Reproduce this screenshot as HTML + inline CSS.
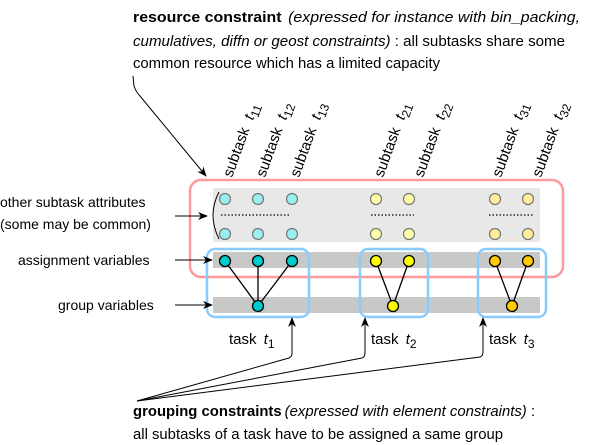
<!DOCTYPE html>
<html><head><meta charset="utf-8"><style>
html,body{margin:0;padding:0;background:#fff;}
svg{display:block;font-family:"Liberation Sans",sans-serif;}
</style></head><body>
<svg width="605" height="445" viewBox="0 0 605 445" xmlns="http://www.w3.org/2000/svg">
<defs><marker id="a" markerWidth="10" markerHeight="8" refX="9" refY="4" orient="auto" markerUnits="userSpaceOnUse"><path d="M0,0 L10,4 L0,8 L3,4 z" fill="#000"/></marker></defs>
<!-- top text -->
<text x="133" y="22" font-size="14.6" textLength="447" lengthAdjust="spacingAndGlyphs"><tspan font-weight="bold">resource constraint</tspan><tspan font-style="italic" dx="6">(expressed for instance with bin_packing,</tspan></text>
<text x="133" y="46" font-size="14.6" textLength="432" lengthAdjust="spacingAndGlyphs"><tspan font-style="italic">cumulatives, diffn or geost constraints)</tspan> : all subtasks share some</text>
<text x="133" y="68" font-size="14.6" textLength="307" lengthAdjust="spacingAndGlyphs">common resource which has a limited capacity</text>
<path d="M133,76 L134,86 Q136,92 140,96 L206,176" fill="none" stroke="#000" stroke-width="1" marker-end="url(#a)"/>
<!-- bands -->
<rect x="213" y="188" width="327" height="54" fill="#e8e8e8"/>
<rect x="213" y="252" width="327" height="16" fill="#c8c8c8"/>
<rect x="213" y="297" width="327" height="16" fill="#c8c8c8"/>
<rect x="190" y="180" width="373" height="97" rx="11" fill="none" stroke="#f99" stroke-width="2.5"/>
<g fill="none" stroke="#8cf" stroke-width="2.5">
<rect x="207" y="249" width="102" height="68" rx="8"/>
<rect x="360" y="249" width="68" height="68" rx="8"/>
<rect x="478" y="249" width="68" height="68" rx="8"/>
</g>
<path d="M219,192 Q207,215 219,239" fill="none" stroke="#000" stroke-width="1"/>
<g stroke="#000" stroke-dasharray="1.5,2" stroke-width="1.2">
<line x1="221" y1="215" x2="290" y2="215"/><line x1="371" y1="215" x2="414" y2="215"/><line x1="489" y1="215" x2="533" y2="215"/>
</g>
<g stroke="#000" stroke-width="1.3">
<line x1="225" y1="261" x2="258" y2="306"/><line x1="258" y1="261" x2="258" y2="306"/><line x1="292" y1="261" x2="258" y2="306"/>
<line x1="376" y1="261" x2="393" y2="306"/><line x1="409" y1="261" x2="393" y2="306"/>
<line x1="495" y1="261" x2="512" y2="306"/><line x1="528" y1="261" x2="512" y2="306"/>
</g>
<g stroke="#777" stroke-width="1.2">
<circle cx="225" cy="199" r="5.5" fill="#9ee"/><circle cx="258" cy="199" r="5.5" fill="#9ee"/><circle cx="292" cy="199" r="5.5" fill="#9ee"/>
<circle cx="225" cy="234" r="5.5" fill="#9ee"/><circle cx="258" cy="234" r="5.5" fill="#9ee"/><circle cx="292" cy="234" r="5.5" fill="#9ee"/>
<circle cx="376" cy="199" r="5.5" fill="#ffa"/><circle cx="409" cy="199" r="5.5" fill="#ffa"/>
<circle cx="376" cy="234" r="5.5" fill="#ffa"/><circle cx="409" cy="234" r="5.5" fill="#ffa"/>
<circle cx="495" cy="199" r="5.5" fill="#fe9"/><circle cx="528" cy="199" r="5.5" fill="#fe9"/>
<circle cx="495" cy="234" r="5.5" fill="#fe9"/><circle cx="528" cy="234" r="5.5" fill="#fe9"/>
</g>
<g stroke="#000" stroke-width="1.3">
<circle cx="225" cy="261" r="5.5" fill="#0cc"/><circle cx="258" cy="261" r="5.5" fill="#0cc"/><circle cx="292" cy="261" r="5.5" fill="#0cc"/><circle cx="258" cy="306" r="5.5" fill="#0cc"/>
<circle cx="376" cy="261" r="5.5" fill="#ff0"/><circle cx="409" cy="261" r="5.5" fill="#ff0"/><circle cx="393" cy="306" r="5.5" fill="#ff0"/>
<circle cx="495" cy="261" r="5.5" fill="#fc0"/><circle cx="528" cy="261" r="5.5" fill="#fc0"/><circle cx="512" cy="306" r="5.5" fill="#fc0"/>
</g>
<!-- subtask labels -->
<g font-size="15">
<text transform="translate(232,178) rotate(-70)">subtask <tspan font-style="italic" dx="5">t</tspan><tspan font-size="12" dy="4">11</tspan></text>
<text transform="translate(265,178) rotate(-70)">subtask <tspan font-style="italic" dx="5">t</tspan><tspan font-size="12" dy="4">12</tspan></text>
<text transform="translate(299,178) rotate(-70)">subtask <tspan font-style="italic" dx="5">t</tspan><tspan font-size="12" dy="4">13</tspan></text>
<text transform="translate(383,178) rotate(-70)">subtask <tspan font-style="italic" dx="5">t</tspan><tspan font-size="12" dy="4">21</tspan></text>
<text transform="translate(423,178) rotate(-70)">subtask <tspan font-style="italic" dx="5">t</tspan><tspan font-size="12" dy="4">22</tspan></text>
<text transform="translate(501,178) rotate(-70)">subtask <tspan font-style="italic" dx="5">t</tspan><tspan font-size="12" dy="4">31</tspan></text>
<text transform="translate(541,178) rotate(-70)">subtask <tspan font-style="italic" dx="5">t</tspan><tspan font-size="12" dy="4">32</tspan></text>
</g>
<!-- left labels -->
<g font-size="14">
<text x="0" y="207">other subtask attributes</text>
<text x="0" y="229">(some may be common)</text>
<text x="18" y="265">assignment variables</text>
<text x="58" y="310">group variables</text>
</g>
<g stroke="#000" stroke-width="1" marker-end="url(#a)">
<line x1="175" y1="216" x2="207" y2="216"/>
<line x1="175" y1="260" x2="212" y2="260"/>
<line x1="175" y1="305" x2="212" y2="305"/>
</g>
<!-- task labels -->
<g font-size="15">
<text x="229" y="344">task <tspan font-style="italic" dx="3">t</tspan><tspan font-size="12" dy="4">1</tspan></text>
<text x="371" y="344">task <tspan font-style="italic" dx="3">t</tspan><tspan font-size="12" dy="4">2</tspan></text>
<text x="489" y="344">task <tspan font-style="italic" dx="3">t</tspan><tspan font-size="12" dy="4">3</tspan></text>
</g>
<g fill="none" stroke="#000" stroke-width="1" marker-end="url(#a)">
<path d="M137,401 L289,358 Q292,357 292,353 L292,318"/>
<path d="M137,401 L362,358 Q365,357 365,353 L365,318"/>
<path d="M137,401 L480,357 Q483,356 483,352 L483,318"/>
</g>
<text x="133" y="416" font-size="14.6" textLength="402" lengthAdjust="spacingAndGlyphs"><tspan font-weight="bold">grouping constraints</tspan><tspan font-style="italic" dx="3">(expressed with element constraints)</tspan> :</text>
<text x="133" y="439" font-size="14.6" textLength="370" lengthAdjust="spacingAndGlyphs">all subtasks of a task have to be assigned a same group</text>
</svg>
</body></html>
